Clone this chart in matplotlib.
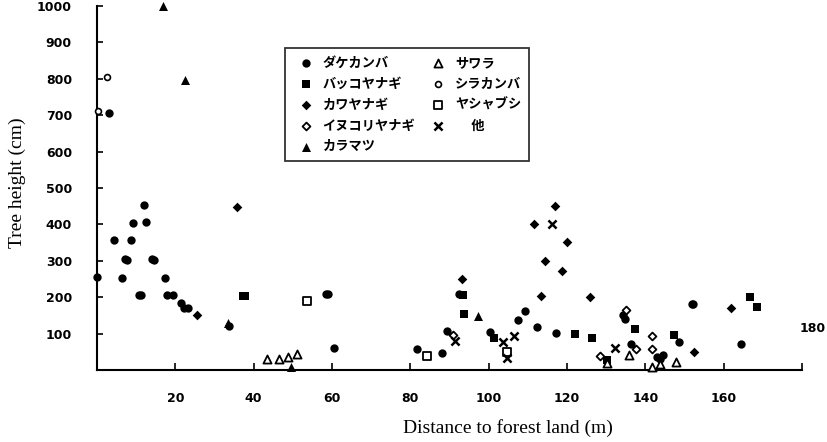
import matplotlib
matplotlib.use("Agg")
import matplotlib.pyplot as plt

# 樹種ごとの (距離 m, 樹高 cm)
dakekanba_x = [0, 4.3, 9.3, 12.1, 12.4, 8.6, 7.1, 7.6, 14.0, 14.5, 6.3, 10.8, 11.3, 17.4,
               18.0, 19.5, 21.4, 22.2, 23.3, 3.0, 33.6, 58.4, 58.9, 60.6, 81.6, 88.2, 89.3,
               92.5, 100.3, 107.6, 109.4, 112.3, 117.2, 136.3, 134.3, 134.7, 142.9, 143.7,
               144.6, 148.7, 151.8, 152.2, 164.3]
dakekanba_y = [255, 357, 403, 453, 407, 357, 304, 302, 304, 302, 254, 205, 205, 254,
               205, 205, 183, 169, 169, 707, 120, 209, 209, 60, 57, 46, 108,
               210, 105, 137, 163, 119, 103, 71, 150, 140, 35, 30,
               41, 78, 181, 181, 71]

bakko_x = [37.2, 37.8, 93.5, 93.8, 101.4, 122.0, 126.5, 130.1, 137.3, 147.3, 166.7, 168.4]
bakko_y = [203, 203, 205, 154, 89, 100, 89, 27, 112, 96, 200, 172]

kawa_x = [25.6, 35.8, 93.3, 111.6, 116.9, 120.0, 114.4, 118.6, 113.4, 125.9, 152.5, 162.0]
kawa_y = [151, 449, 250, 401, 451, 353, 299, 272, 203, 201, 50, 169]

inukori_x = [90.8, 128.5, 135.0, 137.6, 141.6, 141.8]
inukori_y = [96, 38, 164, 57, 93, 58]

karamatsu_x = [16.8, 22.5, 33.5, 49.5, 97.3]
karamatsu_y = [1000, 798, 130, 8, 149]

sawara_x = [43.5, 46.5, 48.7, 51.0, 130.3, 135.9, 141.6, 143.7, 147.8]
sawara_y = [29, 29, 35, 44, 18, 41, 9, 16, 22]

shirakanba_x = [2.6, 0.3]
shirakanba_y = [804, 712]

yashabushi_x = [53.5, 84.3, 104.6]
yashabushi_y = [190, 38, 50]

other_x = [91.4, 103.7, 106.5, 104.8, 116.1, 132.2]
other_y = [80, 78, 93, 34, 401, 61]

x_ticks = [20, 40, 60, 80, 100, 120, 140, 160, 180]
x_tick_labels = ["20", "40", "60", "80", "100", "120", "140", "160", ""]
y_ticks = [100, 200, 300, 400, 500, 600, 700, 800, 900, 1000]

fig = plt.figure(figsize=(8.28, 4.42), dpi=100)
ax = fig.add_axes([97 / 828, 72 / 442, 705 / 828, 364 / 442])

common = dict(clip_on=False, zorder=3)
ax.scatter(dakekanba_x, dakekanba_y, marker="o", s=36, c="black", linewidths=0, label="ダケカンバ", **common)
ax.scatter(bakko_x, bakko_y, marker="s", s=30, c="black", linewidths=0, label="バッコヤナギ", **common)
ax.scatter(kawa_x, kawa_y, marker="D", s=24, c="black", linewidths=0, label="カワヤナギ", **common)
ax.scatter(inukori_x, inukori_y, marker="D", s=16, facecolors="white", edgecolors="black",
           linewidths=1.3, label="イヌコリヤナギ", **common)
ax.scatter(karamatsu_x, karamatsu_y, marker="^", s=42, c="black", linewidths=0, label="カラマツ", **common)
ax.scatter(sawara_x, sawara_y, marker="^", s=34, facecolors="white", edgecolors="black",
           linewidths=1.3, label="サワラ", **common)
ax.scatter(shirakanba_x, shirakanba_y, marker="o", s=18, facecolors="white", edgecolors="black",
           linewidths=1.2, label="シラカンバ", **common)
ax.scatter(yashabushi_x, yashabushi_y, marker="s", s=30, facecolors="white", edgecolors="black",
           linewidths=1.3, label="ヤシャブシ", **common)
ax.scatter(other_x, other_y, marker="x", s=34, c="black", linewidths=1.8, label="\u3000 他", **common)

ax.set_xlim(0, 180)
ax.set_ylim(0, 1000)
ax.set_xticks(x_ticks)
ax.set_xticklabels(x_tick_labels)
ax.set_yticks(y_ticks)

for side in ["top", "right"]:
    ax.spines[side].set_visible(False)
for side in ["left", "bottom"]:
    ax.spines[side].set_linewidth(1.5)

ax.tick_params(axis="y", direction="in", length=4, width=1.2, pad=18)
ax.tick_params(axis="x", direction="in", length=5, width=1.2, pad=16)
for lab in ax.get_xticklabels() + ax.get_yticklabels():
    lab.set_fontfamily("DejaVu Sans")
    lab.set_fontweight("bold")
    lab.set_fontsize(9)

fig.text(813 / 828, (442 - 328) / 442, "180", ha="center", va="center",
         fontfamily="DejaVu Sans", fontweight="bold", fontsize=9)

fig.text(17 / 828, (442 - 183) / 442, "Tree height (cm)", rotation=90, ha="center", va="center",
         fontfamily="Liberation Serif", fontsize=14)
fig.text(508 / 828, (442 - 428) / 442, "Distance to forest land (m)", ha="center", va="center",
         fontfamily="Liberation Serif", fontsize=14)

leg = ax.legend(ncol=2, loc="upper left", bbox_to_anchor=((285 - 97) / 705, (370 - 48) / 364),
                borderaxespad=0, frameon=True, fancybox=False, borderpad=0.6,
                handlelength=2.0, handletextpad=0.25, columnspacing=0.75, labelspacing=0.52,
                prop={"family": ["Noto Sans CJK JP", "DejaVu Sans"], "weight": "bold", "size": 9.5})
leg.get_frame().set_edgecolor("black")
leg.get_frame().set_linewidth(1.3)

fig.savefig("out.png", dpi=100)
